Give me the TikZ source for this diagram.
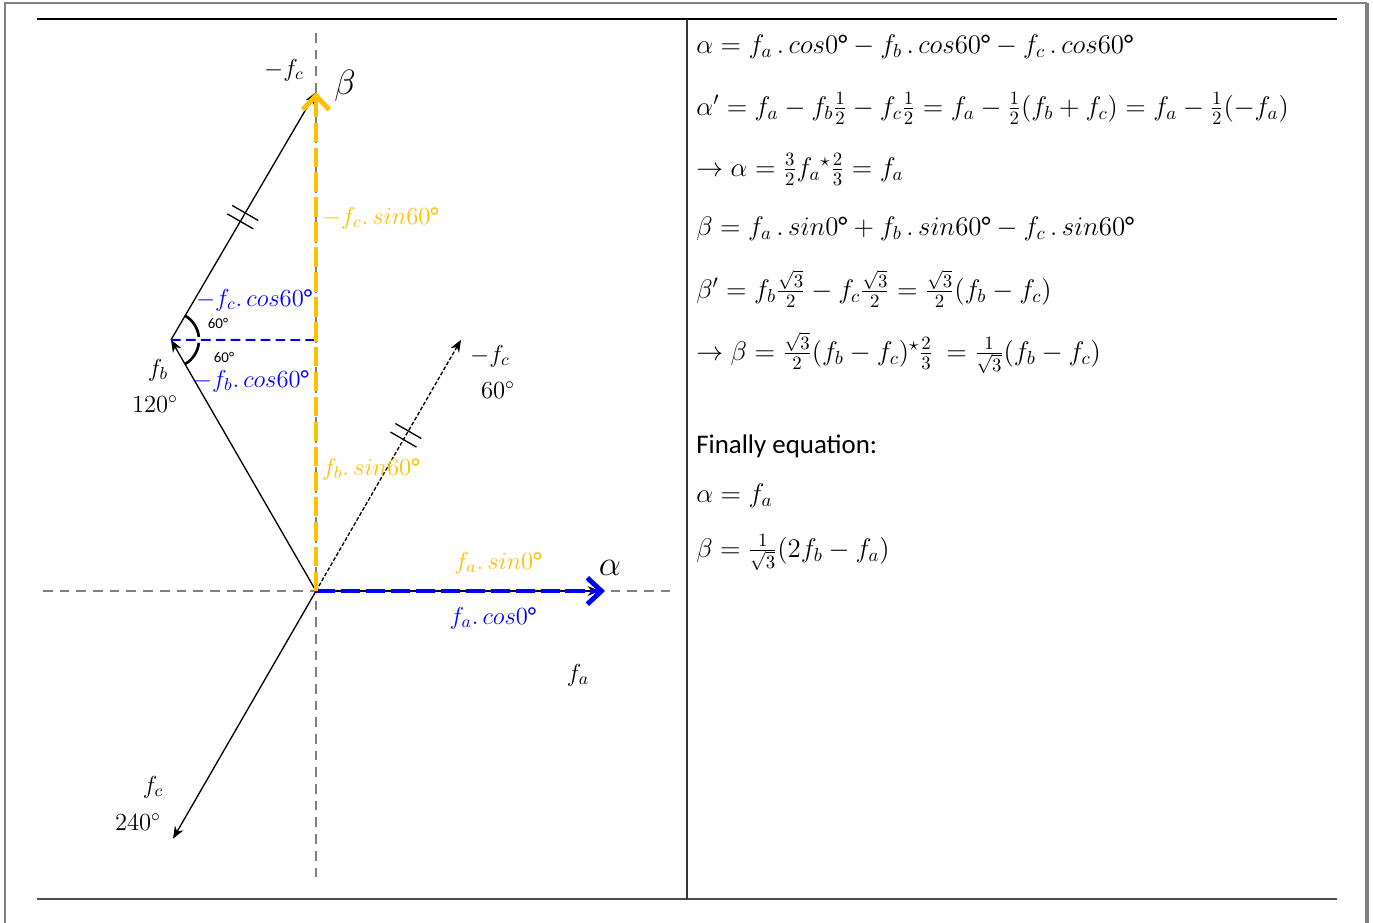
\RequirePackage{fix-cm}
\documentclass[tikz,border=0pt]{standalone}
\usepackage{fontspec}
\setmainfont{Carlito}
\DeclareSymbolFont{operators}{TU}{\rmdefault}{m}{n}
\newfontfamily\lmfont{Latin Modern Roman}
\usetikzlibrary{arrows.meta,calc}
\definecolor{axisgray}{RGB}{128,128,128}
\definecolor{projyellow}{RGB}{255,192,0}
\definecolor{projblue}{RGB}{0,0,255}
\newcommand{\dgr}{\mbox{°}}

\begin{document}
\begin{tikzpicture}[x=0.02cm, y=0.02cm,
  >=Stealth,
  axis/.style={draw=axisgray, line width=0.9pt, dash pattern=on 5.5pt off 4pt},
  vec/.style={-{Stealth[length=7pt,width=5.5pt]}, line width=0.75pt},
  ghost/.style={vec, dash pattern=on 2.2pt off 1.1pt},
  proj/.style={line width=2.8pt, dash pattern=on 11pt off 3.2pt,
              -{Straight Barb[length=8pt,width=15pt]}},
  comp/.style={draw=projblue, line width=1.1pt, dash pattern=on 5.5pt off 3pt},
  tick/.style={line width=0.75pt},
  angarc/.style={line width=1.5pt},
  lbl/.style={font=\fontsize{14}{16}\selectfont, inner sep=1pt},
  axlbl/.style={font=\fontsize{20}{22}\selectfont, inner sep=1pt},
  small/.style={font=\fontsize{8.5}{10}\selectfont, inner sep=1pt},
  eq/.style={anchor=base west, font=\fontsize{15.3}{18}\selectfont, inner sep=0pt},
]
\useasboundingbox (0,0) rectangle (1373,-923);

% === Frame and table ===
\draw[axisgray, line width=1.1pt] (5,-923) -- (5,-3) -- (1367,-3);
\draw[axisgray, line width=1.8pt] (1367,-3) -- (1367,-923);
\draw[line width=0.6pt] (37,-19) -- (1337,-19);
\draw[black!70, line width=0.8pt] (37,-899) -- (1337,-899);
\draw[black!80, line width=0.6pt] (687,-19) -- (687,-899);

% === Left: phasor diagram ===
\coordinate (O) at (316,-591);
\coordinate (xl) at (43,-591);
\coordinate (xr) at (673,-591);
\coordinate (yt) at (316,-33);
\coordinate (yb) at (316,-880);
\coordinate (fbtip) at ($(O)+(120:290)$);
\coordinate (fctip) at ($(O)+(240:286)$);
\coordinate (mfctip) at ($(O)+(60:290)$);
\coordinate (ftop) at (316,-92);
\coordinate (fbmid) at (316,-340);
\coordinate (fatip) at (600,-591);
\coordinate (alphatip) at (605,-591);

% axes
\draw[axis] (xl) -- (xr);
\draw[axis] (yt) -- (yb);

% vectors
\draw[vec] (O) -- (fatip);
\draw[vec] (O) -- (fbtip);
\draw[vec] (O) -- (fctip);
\draw[ghost] (O) -- (mfctip);
\draw[vec] (fbtip) -- (ftop);

% projections
\draw[comp] (fbtip) -- (fbmid);
\draw[proj, draw=projblue] (O) -- (alphatip);
\draw[proj, draw=projyellow] (O) -- (ftop);

% equal-length marks
\path (fbtip) -- (ftop) coordinate[pos=0.478] (hA) coordinate[pos=0.512] (hB);
\path (O) -- (mfctip) coordinate[pos=0.603] (hC) coordinate[pos=0.637] (hD);
\foreach \h in {hA,hB,hC,hD}
  \draw[tick] ($(\h)+(-30:15)$) -- ($(\h)+(150:15)$);

% angle arcs
\draw[angarc] ($(fbtip)+(60:28)$) arc[start angle=60, end angle=6, radius=28];
\draw[angarc] ($(fbtip)+(-6:28)$) arc[start angle=-6, end angle=-60, radius=28];
\node[small] (a1) at (218,-323) {60°};
\node[small] (a2) at (224,-357) {60°};

% labels
\node[lbl] (lmfc) at (284,-70) {$-f_c$};
\node[axlbl] (lbeta) at (345,-86) {$\beta$};
\node[lbl, text=projyellow, anchor=west] (lfcsin) at (320,-218) {$-f_c.\,sin60\dgr$};
\node[lbl, text=projblue, anchor=west] (lfccos) at (194,-300) {$-f_c.\,cos60\dgr$};
\node[lbl, text=projblue, anchor=west] (lfbcos) at (191,-381) {$-f_b.\,cos60\dgr$};
\node[lbl] (lfb) at (158,-370) {$f_b$};
\node[lbl] (lfbang) at (155,-404) {\lmfont 120$^{\circ}$};
\node[lbl] (lmfc2) at (490,-356) {$-f_c$};
\node[lbl] (lmfcang) at (498,-390) {\lmfont 60$^{\circ}$};
\node[lbl, text=projyellow, anchor=west] (lfbsin) at (320,-469) {$f_b.\,sin60\dgr$};
\node[lbl, text=projyellow] (lfasin) at (498,-563) {$f_a.\,sin0\dgr$};
\node[axlbl] (lalpha) at (610,-568) {$\alpha$};
\node[lbl, text=projblue] (lfacos) at (493,-618) {$f_a.\,cos0\dgr$};
\node[lbl] (lfa) at (578,-675) {$f_a$};
\node[lbl] (lfc) at (153,-787) {$f_c$};
\node[lbl] (lfcang) at (138,-822) {\lmfont 240$^{\circ}$};

% === Right: equations ===
\node[eq] (e1) at (696,-53) {$\alpha = f_a\,.\,cos0\dgr - f_b\,.\,cos60\dgr - f_c\,.\,cos60\dgr$};
\node[eq] (e2) at (696,-115) {$\alpha' = f_a - f_b\frac{1}{2} - f_c\frac{1}{2} = f_a - \frac{1}{2}(f_b + f_c) = f_a - \frac{1}{2}(-f_a)$};
\node[eq] (e3) at (696,-176) {$\rightarrow \alpha = \frac{3}{2}f_a{}^{\star}\frac{2}{3} = f_a$};
\node[eq] (e4) at (696,-235) {$\beta = f_a\,.\,sin0\dgr + f_b\,.\,sin60\dgr - f_c\,.\,sin60\dgr$};
\node[eq] (e5) at (696,-298) {$\beta' = f_b\frac{\sqrt{3}}{2} - f_c\frac{\sqrt{3}}{2} = \frac{\sqrt{3}}{2}(f_b - f_c)$};
\node[eq] (e6) at (696,-360) {$\rightarrow \beta = \frac{\sqrt{3}}{2}(f_b - f_c){}^{\star}\frac{2}{3}\ = \frac{1}{\sqrt{3}}(f_b - f_c)$};
\node[eq] (e7) at (696,-453) {Finally equation:};
\node[eq] (e8) at (696,-502) {$\alpha = f_a$};
\node[eq] (e9) at (696,-557) {$\beta = \frac{1}{\sqrt{3}}(2f_b - f_a)$};

\end{tikzpicture}
\end{document}
